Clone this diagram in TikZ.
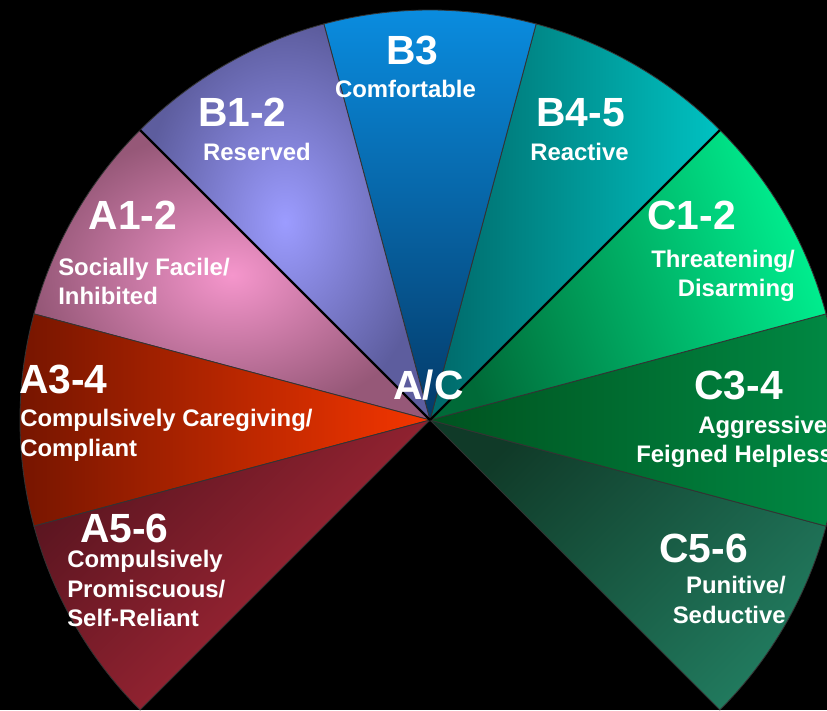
\documentclass[tikz,border=0pt]{standalone}
\usepackage{fontspec}
\setmainfont{Liberation Sans}
\definecolor{bthreetop}{HTML}{0A8DE0}
\definecolor{bthreebot}{HTML}{043A68}
\definecolor{bonein}{HTML}{9C9CFF}
\definecolor{boneout}{HTML}{5D5D9E}
\definecolor{aonein}{HTML}{F596CC}
\definecolor{aoneout}{HTML}{965878}
\definecolor{athreeleft}{HTML}{751500}
\definecolor{athreeright}{HTML}{F53600}
\definecolor{afivedark}{HTML}{5A1520}
\definecolor{afivelight}{HTML}{B22A3A}
\definecolor{bfourleft}{HTML}{006868}
\definecolor{bfourright}{HTML}{00C2C2}
\definecolor{conedark}{HTML}{006A38}
\definecolor{conelight}{HTML}{00F090}
\definecolor{cthreeleft}{HTML}{00521F}
\definecolor{cthreeright}{HTML}{008A44}
\definecolor{cfivedark}{HTML}{103A28}
\definecolor{cfivelight}{HTML}{217A5E}
\tikzset{
  sector/.style={draw=black!80, line width=0.6pt},
  bigline/.style={draw=black, line width=1.6pt},
  biglabel/.style={text=white, inner sep=0pt, font=\bfseries\fontsize{29}{30}\selectfont},
  smalllabel/.style={text=white, inner sep=0pt, font=\bfseries\fontsize{17}{21}\selectfont},
}

\begin{document}
\begin{tikzpicture}[x=0.025cm, y=0.025cm]
        \path[use as bounding box, fill=black](-430,-290) rectangle (397,420);
        \clip(-430,-290) rectangle (397,420);
        \coordinate (o) at (0,0);

        \shadedraw[sector, top color=cfivedark, bottom color=cfivelight, shading angle=45](o)--(-45:410) arc (-45:-15:410)--cycle;
        \shadedraw[sector, left color=cthreeleft, right color=cthreeright](o)--(-15:410) arc (-15:15:410)--cycle;
        \shadedraw[sector, top color=conelight, bottom color=conedark, shading angle=-70](o)--(15:410) arc (15:45:410)--cycle;
        \shadedraw[sector, left color=bfourleft, right color=bfourright](o)--(45:410) arc (45:75:410)--cycle;
        \shadedraw[sector, top color=bthreetop, bottom color=bthreebot](o)--(75:410) arc (75:105:410)--cycle;
        \shadedraw[sector, inner color=bonein, outer color=boneout](o)--(105:410) arc (105:135:410)--cycle;
        \shadedraw[sector, inner color=aonein, outer color=aoneout](o)--(135:410) arc (135:165:410)--cycle;
        \shadedraw[sector, left color=athreeleft, right color=athreeright](o)--(165:410) arc (165:195:410)--cycle;
        \shadedraw[sector, top color=afivedark, bottom color=afivelight, shading angle=45](o)--(195:410) arc (195:225:410)--cycle;

        \draw[bigline](o)--(45:410);
        \draw[bigline](o)--(135:410);

        \node[biglabel, anchor=base] (bthree) at (-17.5,355) {B3};
        \node[smalllabel, anchor=base] (bthreetxt) at (-24.5,322) {Comfortable};
        \node[biglabel, anchor=base] (bone) at (-187.5,293) {B1-2};
        \node[smalllabel, anchor=base] (bonetxt) at (-173,259) {Reserved};
        \node[biglabel, anchor=base] (aone) at (-297,190) {A1-2};
        \node[smalllabel, anchor=base west] (aonetxta) at (-372,144) {Socially Facile/};
        \node[smalllabel, anchor=base west] (aonetxtb) at (-372,115) {Inhibited};
        \node[biglabel, anchor=base west] (athree) at (-411,27) {A3-4};
        \node[smalllabel, anchor=base west] (athreetxta) at (-410,-6) {Compulsively Caregiving/};
        \node[smalllabel, anchor=base west] (athreetxtb) at (-410,-36) {Compliant};
        \node[biglabel, anchor=base west] (afive) at (-350,-122) {A5-6};
        \node[smalllabel, anchor=base west] (afivetxta) at (-363,-147) {Compulsively};
        \node[smalllabel, anchor=base west] (afivetxtb) at (-363,-177) {Promiscuous/};
        \node[smalllabel, anchor=base west] (afivetxtc) at (-363,-206) {Self-Reliant};

        \node[biglabel, anchor=base] (bfour) at (150.5,293) {B4-5};
        \node[smalllabel, anchor=base] (bfourtxt) at (149.5,259) {Reactive};
        \node[biglabel, anchor=base] (cone) at (261.5,190) {C1-2};
        \node[smalllabel, anchor=base east] (conetxta) at (365,152) {Threatening/};
        \node[smalllabel, anchor=base east] (conetxtb) at (365,123) {Disarming};
        \node[biglabel, anchor=base] (cthree) at (308.5,21) {C3-4};
        \node[smalllabel, anchor=base west] (cthreetxta) at (268,-13) {Aggressive/};
        \node[smalllabel, anchor=base west] (cthreetxtb) at (206,-42) {Feigned Helplessness};
        \node[biglabel, anchor=base] (cfive) at (273.5,-142) {C5-6};
        \node[smalllabel, anchor=base east] (cfivetxta) at (356,-173) {Punitive/};
        \node[smalllabel, anchor=base east] (cfivetxtb) at (356,-203) {Seductive};

        \node[biglabel, anchor=base] (ac) at (-1.5,21) {A/C};
    \end{tikzpicture}
\end{document}
